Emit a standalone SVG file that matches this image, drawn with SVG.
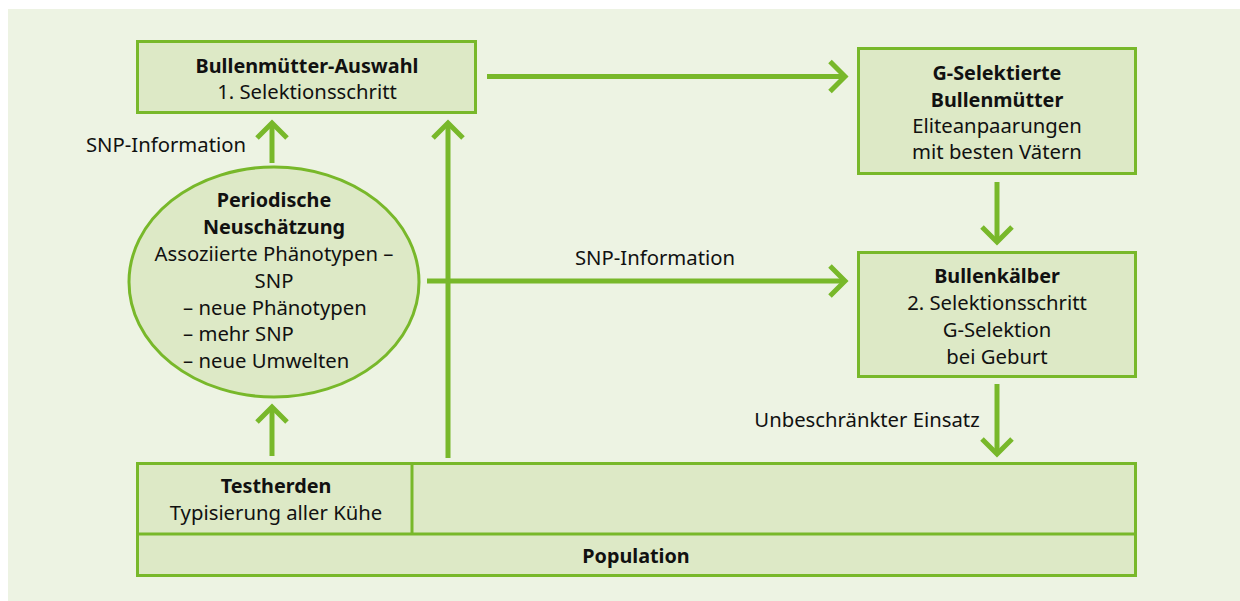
<svg xmlns="http://www.w3.org/2000/svg" width="1240" height="601" viewBox="0 0 1240 601">
<style>
text{font-family:"Noto Sans","Open Sans","Liberation Sans",sans-serif;font-size:20.3px;fill:#111;text-anchor:middle}
.b{font-weight:bold;font-size:19.8px}
.s{text-anchor:start}
.box{fill:#dde9c6;stroke:#78b82a;stroke-width:3}
.con{fill:none;stroke:#78b82a;stroke-width:5}
</style>
<defs>
<marker id="ah" markerUnits="userSpaceOnUse" viewBox="-20 -20 24 40" refX="0" refY="0" markerWidth="24" markerHeight="40" orient="auto" overflow="visible">
<path d="M-15,-15 L0,0 L-15,15" fill="none" stroke="#78b82a" stroke-width="5" stroke-linecap="butt"/>
</marker>
</defs>
<rect x="8" y="9" width="1232" height="592" fill="#edf3e3"/>
<g id="connectors">
<path class="con" d="M272,163 V123" marker-end="url(#ah)"/>
<path class="con" d="M448,458 V123" marker-end="url(#ah)"/>
<path class="con" d="M487,76.5 H845" marker-end="url(#ah)"/>
<path class="con" d="M427,281 H845" marker-end="url(#ah)"/>
<path class="con" d="M997,182 V242" marker-end="url(#ah)"/>
<path class="con" d="M997,384 V454" marker-end="url(#ah)"/>
<path class="con" d="M272,456 V407" marker-end="url(#ah)"/>
<text x="166" y="152">SNP-Information</text>
<text x="655" y="265">SNP-Information</text>
<text x="867" y="427">Unbeschränkter Einsatz</text>
</g>
<g id="bullenmuetter-auswahl">
<rect class="box" x="137.5" y="41.5" width="338" height="71"/>
<text class="b" x="307" y="73">Bullenmütter-Auswahl</text>
<text x="307" y="99">1. Selektionsschritt</text>
</g>
<g id="neuschaetzung">
<ellipse cx="274" cy="282" rx="145" ry="115" fill="#dde9c6" stroke="#78b82a" stroke-width="3"/>
<text class="b" x="274" y="207">Periodische</text>
<text class="b" x="274" y="234">Neuschätzung</text>
<text x="274" y="261">Assoziierte Phänotypen –</text>
<text x="274" y="288">SNP</text>
<text class="s" x="183" y="315">– neue Phänotypen</text>
<text class="s" x="183" y="341">– mehr SNP</text>
<text class="s" x="183" y="368">– neue Umwelten</text>
</g>
<g id="g-selektierte">
<rect class="box" x="858.5" y="48.5" width="277" height="125"/>
<text class="b" x="997" y="80">G-Selektierte</text>
<text class="b" x="997" y="107">Bullenmütter</text>
<text x="997" y="133">Eliteanpaarungen</text>
<text x="997" y="159">mit besten Vätern</text>
</g>
<g id="bullenkaelber">
<rect class="box" x="858.5" y="252.5" width="277" height="124"/>
<text class="b" x="997" y="283">Bullenkälber</text>
<text x="997" y="310">2. Selektionsschritt</text>
<text x="997" y="337">G-Selektion</text>
<text x="997" y="364">bei Geburt</text>
</g>
<g id="population">
<rect class="box" x="137.5" y="463.5" width="998" height="112"/>
<line x1="137.5" y1="534" x2="1135.5" y2="534" stroke="#78b82a" stroke-width="3"/>
<text class="b" x="636" y="563">Population</text>
</g>
<g id="testherden">
<line x1="412" y1="463.5" x2="412" y2="534" stroke="#78b82a" stroke-width="3"/>
<text class="b" x="276" y="493">Testherden</text>
<text x="276" y="520">Typisierung aller Kühe</text>
</g>
</svg>
